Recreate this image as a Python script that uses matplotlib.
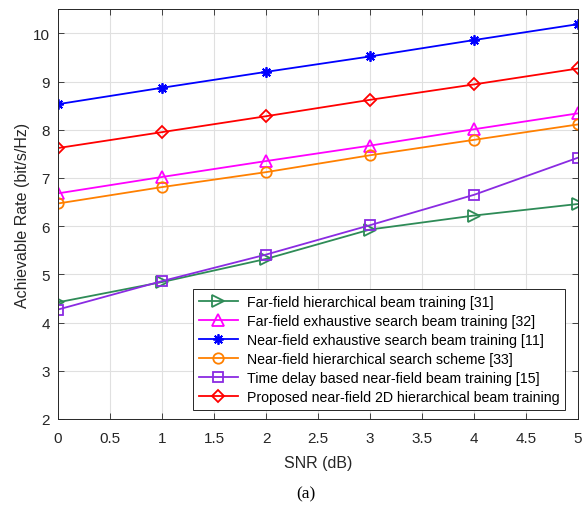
import matplotlib
matplotlib.use("Agg")
import matplotlib.pyplot as plt
import numpy as np

plt.rcParams["font.family"] = ["Liberation Sans", "DejaVu Sans"]

snr = [0, 1, 2, 3, 4, 5]
far_hier = [4.42, 4.84, 5.32, 5.93, 6.22, 6.46]
far_exh = [6.68, 7.02, 7.35, 7.67, 8.01, 8.34]
near_exh = [8.53, 8.87, 9.20, 9.52, 9.86, 10.19]
near_hier = [6.47, 6.81, 7.12, 7.47, 7.79, 8.11]
time_delay = [4.27, 4.86, 5.41, 6.02, 6.65, 7.42]
proposed = [7.62, 7.95, 8.28, 8.62, 8.94, 9.27]

labels = [
    "Far-field hierarchical beam training [31]",
    "Far-field exhaustive search beam training [32]",
    "Near-field exhaustive search beam training [11]",
    "Near-field hierarchical search scheme [33]",
    "Time delay based near-field beam training [15]",
    "Proposed near-field 2D hierarchical beam training",
]
series = [far_hier, far_exh, near_exh, near_hier, time_delay, proposed]
colors = ["#2e8b57", "#ff00ff", "#0000ff", "#ff8000", "#8a2be2", "#ff0000"]
markers = [">", "^", (8, 2, 0), "o", "s", "D"]
msizes = [8, 8, 7.5, 7.5, 6.5, 6.5]

fig = plt.figure(figsize=(5.83, 5.10), dpi=100)
ax = fig.add_axes([0.0995, 0.1765, 0.892, 0.8035])

for y, lab, c, m, ms in zip(series, labels, colors, markers, msizes):
    ax.plot(snr, y, color=c, marker=m, markersize=ms, markerfacecolor="none",
            markeredgecolor=c, markeredgewidth=1.3, linewidth=1.3, label=lab)

ax.set_xlim(0, 5)
ax.set_ylim(2, 10.5)
ax.set_xticks(np.arange(0, 5.01, 0.5))
ax.set_xticklabels(["0", "0.5", "1", "1.5", "2", "2.5", "3", "3.5", "4", "4.5", "5"])
ax.set_yticks(range(2, 11))
ax.grid(True, color="#e0e0e0", linewidth=0.8)
ax.set_axisbelow(True)
ax.tick_params(direction="in", top=True, right=True, labelsize=11,
               colors="#262626", length=4, width=0.6)
ax.tick_params(axis="x", pad=9)
ax.tick_params(axis="y", pad=6)
for s in ax.spines.values():
    s.set_color("#262626")
    s.set_linewidth(0.7)

ax.set_xlabel("SNR (dB)", fontsize=11.5, color="#262626", labelpad=7)
ax.set_ylabel("Achievable Rate (bit/s/Hz)", fontsize=11.5, color="#262626", labelpad=2)

leg = ax.legend(loc="lower right", bbox_to_anchor=(0.975, 0.022), fontsize=10.2,
                fancybox=False, framealpha=1, edgecolor="#262626",
                handlelength=2.8, handletextpad=0.6, labelspacing=0.36,
                borderpad=0.4, borderaxespad=0)
leg.get_frame().set_linewidth(0.7)

fig.text(0.525, 0.031, "(a)", fontsize=12.5, family=["Liberation Serif", "DejaVu Serif"],
         ha="center", va="center")

fig.savefig("out.png", dpi=100)
